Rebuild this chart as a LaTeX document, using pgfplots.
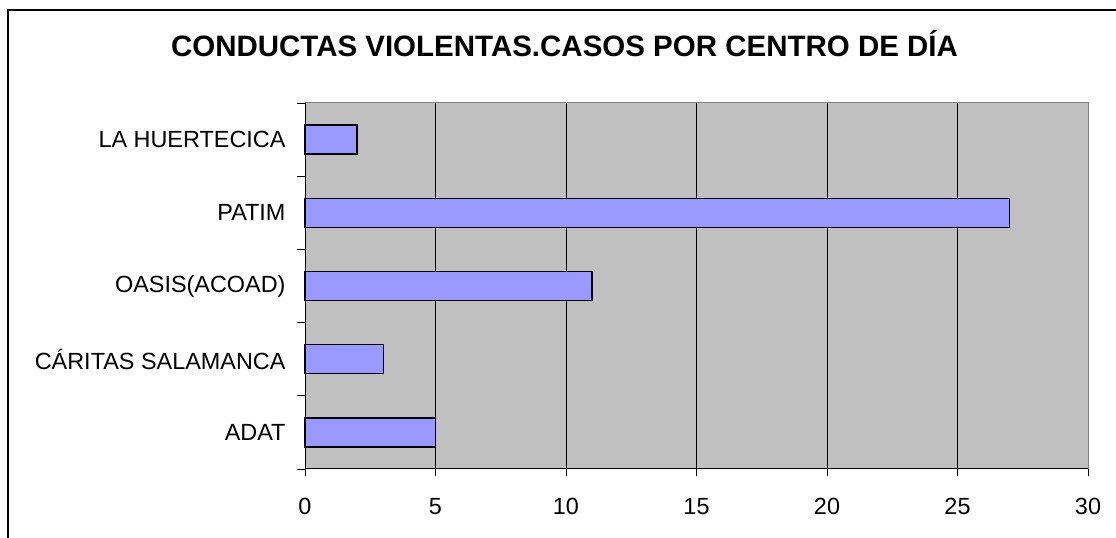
\documentclass[border=0pt]{standalone}
\usepackage{pgfplots}
\pgfplotsset{compat=1.18}
\usepackage{fontspec}
\setmainfont{Liberation Sans}
\definecolor{barblue}{HTML}{9999FF}
\definecolor{plotgray}{HTML}{C0C0C0}
\definecolor{bordergray}{HTML}{808080}
\begin{document}
\begin{tikzpicture}
\clip (0bp,0bp) rectangle (1116bp,538bp);
\fill[white] (0bp,0bp) rectangle (1116bp,538bp);
\draw[line width=1.3bp] (8bp,-20bp) rectangle (1140bp,528bp);
\node[anchor=base, font=\fontsize{29.6}{34}\selectfont\bfseries, inner sep=0pt] at (564.5bp,481bp) {CONDUCTAS VIOLENTAS.CASOS POR CENTRO DE DÍA};
\begin{axis}[
  at={(305bp,69bp)}, anchor=south west,
  scale only axis, width=783bp, height=366bp,
  xbar, bar width=29bp,
  xmin=0, xmax=30, ymin=-0.5, ymax=4.5,
  axis background/.style={fill=plotgray},
  axis line style={bordergray, line width=1bp},
  xtick={0,5,...,30},
  ytick={0,1,2,3,4},
  yticklabels={ADAT, CÁRITAS SALAMANCA, OASIS(ACOAD), PATIM, LA HUERTECICA},
  minor ytick={-0.5,0.5,...,4.5},
  tick align=outside, tick pos=left,
  major tick length=7bp,
  minor tick length=8bp,
  ytick style={draw=none},
  minor y tick style={draw=black, line width=0.8bp},
  xtick style={black, line width=0.8bp},
  ticklabel style={font=\fontsize{23.5}{27}\selectfont},
  /pgf/number format/assume math mode=true,
  yticklabel style={xshift=-9bp},
  xticklabel style={yshift=-19bp},
  clip=false,
]
\draw[black, line width=0.8bp] (axis cs:5,-0.5) -- (axis cs:5,4.5);
\draw[black, line width=0.8bp] (axis cs:10,-0.5) -- (axis cs:10,4.5);
\draw[black, line width=0.8bp] (axis cs:15,-0.5) -- (axis cs:15,4.5);
\draw[black, line width=0.8bp] (axis cs:20,-0.5) -- (axis cs:20,4.5);
\draw[black, line width=0.8bp] (axis cs:25,-0.5) -- (axis cs:25,4.5);
\draw[black, line width=1bp] (axis cs:0,4.5) -- (axis cs:0,-0.5) -- (axis cs:30,-0.5);
\addplot[fill=barblue, draw=black, line width=1.5bp] coordinates {(5,0) (3,1) (11,2) (27,3) (2,4)};
\end{axis}
\end{tikzpicture}
\end{document}
